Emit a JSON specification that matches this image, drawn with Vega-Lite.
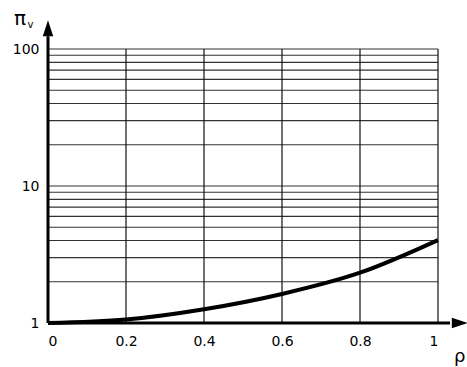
{
  "$schema": "https://vega.github.io/schema/vega-lite/v6.json",
  "width": 390,
  "height": 274,
  "autosize": "none",
  "padding": {"left": 48, "top": 49, "right": 29, "bottom": 44},
  "background": "white",
  "config": {
    "view": {"stroke": null},
    "font": "DejaVu Sans",
    "axis": {"labelFont": "DejaVu Sans", "labelFontSize": 14, "labelColor": "black", "domain": false, "ticks": false, "grid": false, "title": null},
    "axisX": {"labelPadding": 11},
    "axisY": {"labelPadding": 9}
  },
  "datasets": {
    "gridh": [{"y": 2}, {"y": 3}, {"y": 4}, {"y": 5}, {"y": 6}, {"y": 7}, {"y": 8}, {"y": 9}, {"y": 10}, {"y": 20}, {"y": 30}, {"y": 40}, {"y": 50}, {"y": 60}, {"y": 70}, {"y": 80}, {"y": 90}, {"y": 100}],
    "gridv": [{"x": 0.2}, {"x": 0.4}, {"x": 0.6}, {"x": 0.8}, {"x": 1.0}],
    "curve": [{"x": 0, "y": 1.0}, {"x": 0.2, "y": 1.06}, {"x": 0.4, "y": 1.26}, {"x": 0.6, "y": 1.63}, {"x": 0.8, "y": 2.33}, {"x": 1.0, "y": 4.03}],
    "yaxis": [{"x": 0, "y": 1}, {"x": 0, "y": 124}],
    "xaxis": [{"x": 0, "y": 1}, {"x": 1.031, "y": 1}],
    "yarrow": [{"x": 0, "y": 142}],
    "xarrow": [{"x": 1.056, "y": 1}]
  },
  "layer": [
    {
      "data": {"name": "gridh"},
      "mark": {"type": "rule", "color": "#333", "strokeWidth": 1.2},
      "encoding": {
        "y": {"field": "y", "type": "quantitative", "scale": {"type": "log", "domain": [1, 100], "nice": false}, "axis": {"values": [1, 10, 100], "format": "~g"}},
        "x": {"datum": 0, "type": "quantitative", "scale": {"domain": [0, 1], "nice": false, "zero": false}, "axis": {"values": [0, 0.2, 0.4, 0.6, 0.8, 1], "format": "~g"}},
        "x2": {"datum": 1}
      }
    },
    {
      "data": {"name": "gridv"},
      "mark": {"type": "rule", "color": "#111", "strokeWidth": 1.2},
      "encoding": {
        "x": {"field": "x", "type": "quantitative"},
        "y": {"datum": 1, "type": "quantitative"},
        "y2": {"datum": 100}
      }
    },
    {
      "data": {"name": "yaxis"},
      "mark": {"type": "line", "color": "black", "strokeWidth": 3},
      "encoding": {
        "x": {"field": "x", "type": "quantitative"},
        "y": {"field": "y", "type": "quantitative"}
      }
    },
    {
      "data": {"name": "xaxis"},
      "mark": {"type": "line", "color": "black", "strokeWidth": 3},
      "encoding": {
        "x": {"field": "x", "type": "quantitative"},
        "y": {"field": "y", "type": "quantitative"}
      }
    },
    {
      "data": {"name": "yarrow"},
      "mark": {"type": "point", "shape": "M0,-1L0.65,1L-0.65,1Z", "size": 256, "filled": true, "color": "black", "opacity": 1},
      "encoding": {
        "x": {"field": "x", "type": "quantitative"},
        "y": {"field": "y", "type": "quantitative"}
      }
    },
    {
      "data": {"name": "xarrow"},
      "mark": {"type": "point", "shape": "M1,0L-1,-0.65L-1,0.65Z", "size": 256, "filled": true, "color": "black", "opacity": 1},
      "encoding": {
        "x": {"field": "x", "type": "quantitative"},
        "y": {"field": "y", "type": "quantitative"}
      }
    },
    {
      "data": {"name": "curve"},
      "mark": {"type": "line", "color": "black", "strokeWidth": 4, "interpolate": "monotone"},
      "encoding": {
        "x": {"field": "x", "type": "quantitative"},
        "y": {"field": "y", "type": "quantitative"}
      }
    },
    {
      "data": {"values": [{"t": "π", "x": -0.072, "y": 150}]},
      "mark": {"type": "text", "font": "DejaVu Sans", "fontSize": 20, "align": "center", "baseline": "alphabetic", "color": "black"},
      "encoding": {
        "x": {"field": "x", "type": "quantitative"},
        "y": {"field": "y", "type": "quantitative"},
        "text": {"field": "t"}
      }
    },
    {
      "data": {"values": [{"t": "v", "x": -0.045, "y": 142}]},
      "mark": {"type": "text", "font": "DejaVu Sans", "fontSize": 10, "align": "center", "baseline": "alphabetic", "color": "black"},
      "encoding": {
        "x": {"field": "x", "type": "quantitative"},
        "y": {"field": "y", "type": "quantitative"},
        "text": {"field": "t"}
      }
    },
    {
      "data": {"values": [{"t": "ρ", "x": 1.056, "y": 0.52}]},
      "mark": {"type": "text", "font": "DejaVu Sans", "fontSize": 18, "align": "center", "baseline": "alphabetic", "color": "black"},
      "encoding": {
        "x": {"field": "x", "type": "quantitative"},
        "y": {"field": "y", "type": "quantitative"},
        "text": {"field": "t"}
      }
    }
  ]
}
